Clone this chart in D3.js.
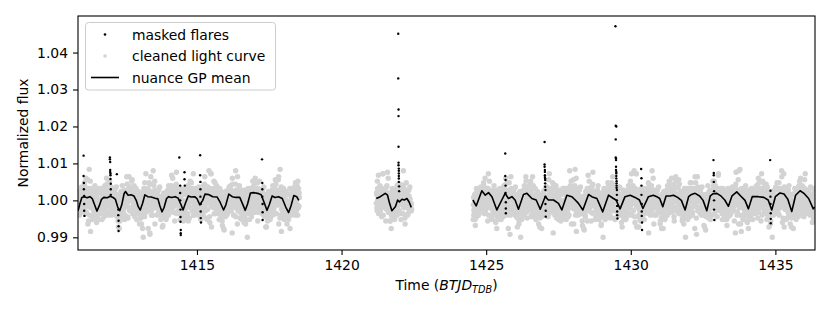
<!DOCTYPE html>
<html>
<head>
<meta charset="utf-8">
<script src="https://cdn.jsdelivr.net/npm/d3@7"></script>
<style>
body { margin: 0; background: #fff; }
svg { display: block; font-family: "DejaVu Sans", sans-serif; }
</style>
</head>
<body>
<svg width="830" height="312"></svg>
<script>
// ---- data ----
const xTicks = [1415, 1420, 1425, 1430, 1435];
const yTicks = [0.99, 1.00, 1.01, 1.02, 1.03, 1.04];
const legendLabels = ["masked flares", "cleaned light curve", "nuance GP mean"];

// cleaned light curve: one character per binned point, fixed time step,
// two interleaved passes (second one shifted by half a step)
const fluxLevels = "0123456789ABCDEFGHIJKLMNOPQRSTUVWXYZabcdefghijklmnopqrstuvwxyz";
const fluxBase = 0.988, fluxStep = 0.0004;
const grayStep = 0.015;
const grayStart = [1410.90, 1421.20, 1424.55];
const grayStartB = [1410.9075, 1421.2075, 1424.5575];
const graySeg1 = [
  "SYKWPbOTVN","WbPZgSLcUX","WiEbSpKX9c","QVHXSaMUeP","NSFVKPbHRM",
  "UNZRLWcQTJ","TeNYVjQaKW","ZRhMXdUOcS","NVTObPWKYS","JQCUNXGOaL",
  "PeUMaSXHVQ","QWfJbTYkNV","dPXUiLZSaR","JTQcWLRZNU","PEMTIYKRBO",
  "VcOgTWMbYQ","TBYgQ7VkNZ","XKaUeRhPWZ","SYKWPbOTVN","HWNLSDQZJM",
  "QVHXSaMUeP","SYNcVlQXTb","aQGWdUnTYM","UNZRLWcQTJ","OUGRZKMcIP",
  "UZLeRXIbVg","YTcPWmKXSa","NVTObPWKYS","QVHXSaMUeP","RfVNZbTHdW",
  "ZoSFaWmCUR","XUcLSgZPbW","UNZRLWcQTJ","LRDTNWAQKS","SYKWPbOTVN",
  "TeNYVjQaKW","QWfJbTYkNV","PeUMaSXHVQ","NSFVKPbHRM","UNZRLWcQTJ",
  "ZRhMXdUOcS","VcOgTWMbYQ","NVTObPWKYS","JQCUNXGOaL","QVHXSaMUeP",
  "dPXUiLZSaR","WiEbSpKX9c","JTQcWLRZNU","PEMTIYKRBO","SYKWPbOTVN",
  "XKaUeRhPWZ"
].join("");
const graySeg1B = [
  "VPaLTXNdRQ","bTXOeWRjMZ","QaVGcYUhPX","RWIZOUbKSY","RKOYHTMcLQ",
  "NcQTHXVMaP","YMdSWfLaTR","gUNbXKZcQW","VPaLTXNdRQ","MGUPBXNSJa",
  "RWIZOUbKSY","TkRXIaVdOY","ZPhUbLWSeN","NcQTHXVMaP","TOIWLEZQN5",
  "VXJcTmQZbS","cNWR8fYUKa","XSoPZUEbWT","VPaLTXNdRQ","KVPCSOYJRM",
  "RWIZOUbKSY","bTXOeWRjMZ","YMdSWfLaTR","NcQTHXVMaP","RKOYHTMcLQ",
  "QaVGcYUhPX","gUNbXKZcQW","VPaLTXNdRQ","RWIZOUbKSY","TkRXIaVdOY",
  "VXJcTmQZbS","ZPhUbLWSeN","NcQTHXVMaP","MGUPBXNSJa","VPaLTXNdRQ",
  "cNWR8fYUKa","XSoPZUEbWT","RWIZOUbKSY","TOIWLEZQN5","NcQTHXVMaP",
  "bTXOeWRjMZ","QaVGcYUhPX","VPaLTXNdRQ","KVPCSOYJRM","RWIZOUbKSY",
  "YMdSWfLaTR","TkRXIaVdOY","NcQTHXVMaP","RKOYHTMcLQ","VPaLTXNdRQ",
  "gUNbXKZcQW"
].join("");
const graySeg2 = [
  "SYNcVlQXTb","YTcPWmKXSa","aQGWdUnTYM","OUGRZKMcIP","QVHXSaMUeP",
  "RfVNZbTHdW","UZLeRXIbVg","SYKWPbOTVN","RN"
].join("");
const graySeg2B = [
  "ZPhUbLWSeN","VXJcTmQZbS","bTXOeWRjMZ","MGUPBXNSJa","RWIZOUbKSY",
  "YMdSWfLaTR","XSoPZUEbWT","VPaLTXNdRQ","SO"
].join("");
const graySeg3 = [
  "HWNLSDQZJM","SYKWPbOTVN","WbPZgSLcUX","YTcPWmKXSa","QVHXSaMUeP",
  "NSFVKPbHRM","UNZRLWcQTJ","TeNYVjQaKW","TBYgQ7VkNZ","NVTObPWKYS",
  "JQCUNXGOaL","QVHXSaMUeP","ZRhMXdUOcS","QWfJbTYkNV","JTQcWLRZNU",
  "PEMTIYKRBO","SYKWPbOTVN","dPXUiLZSaR","VcOgTWMbYQ","PeUMaSXHVQ",
  "OUGRZKMcIP","UNZRLWcQTJ","XKaUeRhPWZ","WiEbSpKX9c","SYKWPbOTVN",
  "LRDTNWAQKS","SYNcVlQXTb","aQGWdUnTYM","QVHXSaMUeP","HWNLSDQZJM",
  "UNZRLWcQTJ","UZLeRXIbVg","RfVNZbTHdW","NVTObPWKYS","NSFVKPbHRM",
  "QVHXSaMUeP","YTcPWmKXSa","ZoSFaWmCUR","JQCUNXGOaL","JTQcWLRZNU",
  "WbPZgSLcUX","TeNYVjQaKW","SYKWPbOTVN","PEMTIYKRBO","QVHXSaMUeP",
  "ZRhMXdUOcS","QWfJbTYkNV","dPXUiLZSaR","OUGRZKMcIP","UNZRLWcQTJ",
  "VcOgTWMbYQ","TBYgQ7VkNZ","NVTObPWKYS","LRDTNWAQKS","PeUMaSXHVQ",
  "XKaUeRhPWZ","SYNcVlQXTb","UNZRLWcQTJ","HWNLSDQZJM","SYKWPbOTVN",
  "aQGWdUnTYM","WiEbSpKX9c","QVHXSaMUeP","NSFVKPbHRM","JTQcWLRZNU",
  "UZLeRXIbVg","YTcPWmKXSa","RfVNZbTHdW","JQCUNXGOaL","SYKWPbOTVN",
  "XUcLSgZPbW","ZoSFaWmCUR","QVHXSaMUeP","PEMTIYKRBO","UNZRLWcQTJ",
  "TeNYVjQaKW","dPXUiLZSaR","NVTObPWKYS","NSFVKPbH"
].join("");
const graySeg3B = [
  "RKOYHTMcLQ","VPaLTXNdRQ","bTXOeWRjMZ","QaVGcYUhPX","RWIZOUbKSY",
  "MGUPBXNSJa","NcQTHXVMaP","YMdSWfLaTR","gUNbXKZcQW","VPaLTXNdRQ",
  "TOIWLEZQN5","RWIZOUbKSY","TkRXIaVdOY","ZPhUbLWSeN","NcQTHXVMaP",
  "KVPCSOYJRM","VPaLTXNdRQ","VXJcTmQZbS","cNWR8fYUKa","RWIZOUbKSY",
  "RKOYHTMcLQ","NcQTHXVMaP","XSoPZUEbWT","bTXOeWRjMZ","VPaLTXNdRQ",
  "MGUPBXNSJa","QaVGcYUhPX","YMdSWfLaTR","RWIZOUbKSY","TOIWLEZQN5",
  "NcQTHXVMaP","gUNbXKZcQW","TkRXIaVdOY","VPaLTXNdRQ","KVPCSOYJRM",
  "RWIZOUbKSY","ZPhUbLWSeN","VXJcTmQZbS","RKOYHTMcLQ","NcQTHXVMaP",
  "cNWR8fYUKa","XSoPZUEbWT","VPaLTXNdRQ","MGUPBXNSJa","RWIZOUbKSY",
  "bTXOeWRjMZ","QaVGcYUhPX","YMdSWfLaTR","TOIWLEZQN5","NcQTHXVMaP",
  "gUNbXKZcQW","TkRXIaVdOY","VPaLTXNdRQ","KVPCSOYJRM","RWIZOUbKSY",
  "ZPhUbLWSeN","VXJcTmQZbS","NcQTHXVMaP","RKOYHTMcLQ","VPaLTXNdRQ",
  "cNWR8fYUKa","XSoPZUEbWT","RWIZOUbKSY","MGUPBXNSJa","NcQTHXVMaP",
  "bTXOeWRjMZ","QaVGcYUhPX","YMdSWfLaTR","TOIWLEZQN5","VPaLTXNdRQ",
  "gUNbXKZcQW","TkRXIaVdOY","RWIZOUbKSY","KVPCSOYJRM","NcQTHXVMaP",
  "ZPhUbLWSeN","VXJcTmQZbS","VPaLTXNdRQ","RKOYHTMc"
].join("");

// GP mean, three segments
const gpTime1 = [1410.89,1410.95,1411.02,1411.10,1411.20,1411.30,1411.38,1411.46,1411.54,1411.62,1411.70,1411.78,1411.90,1412.00,1412.10,1412.18,1412.26,1412.33,1412.40,1412.48,1412.53,1412.62,1412.72,1412.82,1412.90,1412.97,1413.04,1413.12,1413.20,1413.30,1413.42,1413.55,1413.65,1413.72,1413.79,1413.86,1413.95,1414.02,1414.12,1414.25,1414.35,1414.45,1414.52,1414.60,1414.70,1414.80,1414.92,1415.00,1415.10,1415.20,1415.28,1415.40,1415.55,1415.70,1415.80,1415.92,1416.00,1416.10,1416.22,1416.35,1416.48,1416.58,1416.67,1416.75,1416.85,1416.95,1417.10,1417.22,1417.32,1417.42,1417.50,1417.60,1417.70,1417.82,1417.95,1418.07,1418.17,1418.25,1418.35,1418.45,1418.52];
const gpFlux1 = [0.9972,0.9990,1.0008,1.0010,1.0007,1.0010,1.0005,0.9988,0.9971,0.9985,1.0003,1.0008,1.0007,1.0011,1.0008,1.0003,0.9982,0.9972,0.9988,1.0018,1.0024,1.0014,1.0015,1.0012,1.0000,0.9983,0.9974,0.9992,1.0015,1.0010,1.0009,1.0006,1.0004,0.9985,0.9969,0.9980,1.0005,1.0010,1.0008,1.0010,1.0006,0.9988,0.9974,0.9992,1.0012,1.0009,1.0010,1.0005,0.9988,1.0000,1.0017,1.0016,1.0010,1.0009,0.9995,0.9974,0.9988,1.0017,1.0010,1.0008,1.0008,0.9990,0.9973,0.9990,1.0020,1.0021,1.0019,1.0015,0.9995,0.9973,0.9988,1.0012,1.0008,1.0010,1.0005,0.9982,0.9967,0.9985,1.0013,1.0010,1.0000];
const gpTime2 = [1421.20,1421.34,1421.51,1421.59,1421.66,1421.74,1421.86,1421.94,1422.00,1422.09,1422.17,1422.26,1422.34,1422.41];
const gpFlux2 = [1.0005,1.0010,1.0019,1.0014,0.9992,0.9972,0.9983,1.0001,0.9996,1.0003,1.0001,1.0005,0.9995,0.9981];
const gpTime3 = [1424.54,1424.655,1424.85,1424.97,1425.08,1425.20,1425.37,1425.54,1425.657,1425.77,1425.89,1426.00,1426.117,1426.29,1426.41,1426.58,1426.73,1426.87,1427.04,1427.15,1427.33,1427.50,1427.617,1427.79,1427.96,1428.08,1428.19,1428.343,1428.54,1428.65,1428.83,1429.03,1429.23,1429.40,1429.49,1429.63,1429.80,1429.98,1430.15,1430.30,1430.42,1430.61,1430.78,1430.90,1431.00,1431.107,1431.22,1431.35,1431.475,1431.62,1431.75,1431.879,1432.00,1432.10,1432.225,1432.38,1432.50,1432.628,1432.75,1432.85,1432.975,1433.10,1433.25,1433.376,1433.50,1433.665,1433.80,1433.95,1434.068,1434.20,1434.41,1434.60,1434.75,1434.875,1435.00,1435.16,1435.30,1435.43,1435.566,1435.70,1435.855,1436.00,1436.15,1436.31,1436.36];
const gpFlux3 = [1.0001,0.9985,1.0026,1.0014,1.0021,1.0010,0.9974,1.0001,1.0019,1.0005,1.0010,1.0001,0.9976,1.0016,1.0019,1.0005,1.0001,0.9976,1.0010,1.0001,1.0001,0.9992,0.9974,1.0014,1.0010,1.0001,0.9992,0.9974,1.0016,1.0010,1.0005,0.9969,1.0014,1.0005,1.0001,0.9977,1.0010,1.0014,1.0008,1.0001,0.9978,1.0010,1.0014,1.0010,1.0005,0.9983,1.0012,1.0012,1.0014,1.0008,1.0000,0.9974,1.0010,1.0016,1.0019,1.0012,1.0000,0.9972,1.0012,1.0018,1.0019,1.0013,1.0001,0.9984,1.0012,1.0023,1.0012,1.0000,0.9977,1.0010,1.0010,1.0008,1.0001,0.9974,1.0010,1.0020,1.0017,1.0003,0.9970,1.0014,1.0026,1.0018,1.0005,0.9977,0.9982];

// masked flare points
const flareTime = [
  1411.08,1411.08,1411.09,1411.09,1411.10,1411.10,1411.10,1411.11,
  1411.99,1411.99,1412.00,1412.00,1412.00,1412.01,1412.01,1412.01,1412.02,1412.02,1412.02,
  1412.23,1412.28,1412.28,1412.29,1412.29,1412.29,
  1414.39,1414.42,1414.42,1414.42,1414.43,1414.43,1414.43,1414.44,1414.44,1414.44,1414.57,1414.57,1414.58,
  1415.11,1415.11,1415.12,1415.12,1415.12,1415.13,1415.13,1415.13,1415.14,
  1417.25,1417.26,1417.26,1417.26,1417.27,1417.27,1417.27,
  1421.96,1421.96,1421.97,1421.97,1421.97,1421.97,1421.97,1421.98,1421.98,1421.98,1421.98,1421.98,1421.98,1421.99,1421.99,
  1425.66,1425.66,1425.67,1425.67,1425.67,1425.68,1425.68,1425.68,
  1427.02,1427.02,1427.02,1427.03,1427.03,1427.03,1427.03,1427.04,1427.04,1427.04,1427.04,1427.05,1427.05,1427.05,1427.06,1427.06,
  1429.47,1429.48,1429.50,1429.48,1429.48,1429.49,1429.49,1429.49,1429.49,1429.50,1429.50,1429.50,1429.50,1429.51,1429.51,1429.51,1429.51,1429.52,1429.52,1429.52,1429.53,1429.53,1429.53,1429.54,
  1430.36,1430.37,1430.37,1430.37,1430.38,1430.38,1430.38,1430.39,1430.39,
  1432.86,1432.87,1432.87,1432.87,1432.88,1432.88,1432.88,1432.89,
  1434.82,1434.83,1434.83,1434.83,1434.84,1434.84,1434.84
];
const flareFlux = [
  1.0121,1.0066,1.0047,1.0030,1.0012,0.9990,0.9972,0.9958,
  1.0116,1.0111,1.0104,1.0082,1.0077,1.0073,1.0068,1.0058,1.0045,1.0030,1.0015,
  1.0071,0.9975,0.9960,0.9945,0.9930,0.9917,
  1.0116,1.0040,1.0020,1.0000,0.9975,0.9955,0.9942,0.9920,0.9911,0.9906,1.0076,1.0057,1.0040,
  1.0122,1.0068,1.0050,1.0030,1.0010,0.9990,0.9970,0.9952,0.9940,
  1.0111,1.0047,1.0030,1.0010,0.9990,0.9968,0.9947,
  1.0451,1.0330,1.0246,1.0228,1.0145,1.0102,1.0095,1.0086,1.0080,1.0073,1.0066,1.0059,1.0050,1.0038,1.0025,
  1.0127,1.0066,1.0055,1.0040,1.0020,0.9995,0.9978,0.9965,
  1.0158,1.0097,1.0091,1.0082,1.0077,1.0068,1.0063,1.0059,1.0055,1.0046,1.0037,1.0028,1.0010,0.9990,0.9972,0.9956,
  1.0471,1.0202,1.0200,1.0165,1.0116,1.0113,1.0109,1.0091,1.0082,1.0077,1.0073,1.0066,1.0059,1.0052,1.0046,1.0040,1.0034,1.0028,1.0015,1.0000,0.9985,0.9970,0.9960,0.9951,
  1.0085,1.0060,1.0040,1.0015,0.9990,0.9970,0.9958,0.9940,0.9920,
  1.0109,1.0074,1.0068,1.0050,1.0025,1.0000,0.9975,0.9947,
  1.0109,1.0026,1.0010,0.9990,0.9965,0.9950,0.9938
];

// ---- layout ----
const svg = d3.select("svg");
const plot = { left: 78, right: 815, top: 16, bottom: 250 };
const fontSize = "13.9px";

const x = d3.scaleLinear().domain([1410.887, 1436.37]).range([plot.left, plot.right]);
const y = d3.scaleLinear().domain([0.98657, 1.04989]).range([plot.bottom, plot.top]);

svg.append("clipPath").attr("id", "clip")
  .append("rect")
  .attr("x", plot.left).attr("y", plot.top)
  .attr("width", plot.right - plot.left).attr("height", plot.bottom - plot.top);

const grayData = [];
const grayPasses = [
  [grayStart, [graySeg1, graySeg2, graySeg3]],
  [grayStartB, [graySeg1B, graySeg2B, graySeg3B]]
];
grayPasses.forEach(([starts, segs]) => {
  segs.forEach((s, k) => {
    for (let i = 0; i < s.length; i++) {
      grayData.push({ t: starts[k] + i * grayStep, f: fluxBase + fluxLevels.indexOf(s[i]) * fluxStep });
    }
  });
});
const flareData = flareTime.map((t, i) => ({ t: t, f: flareFlux[i] }));
const gpSegments = [[gpTime1, gpFlux1], [gpTime2, gpFlux2], [gpTime3, gpFlux3]]
  .map(([ts, fs]) => ts.map((t, i) => ({ t: t, f: fs[i] })));

const body = svg.append("g").attr("clip-path", "url(#clip)");

// cleaned light curve
body.append("g").selectAll("circle")
  .data(grayData)
  .enter().append("circle")
  .attr("cx", d => x(d.t))
  .attr("cy", d => y(d.f))
  .attr("r", 2.7)
  .attr("fill", "#d3d3d3");

// masked flares
body.append("g").selectAll("circle")
  .data(flareData)
  .enter().append("circle")
  .attr("cx", d => x(d.t))
  .attr("cy", d => y(d.f))
  .attr("r", 1.2)
  .attr("fill", "#000");

// GP mean
const line = d3.line().x(d => x(d.t)).y(d => y(d.f));
body.append("g").selectAll("path")
  .data(gpSegments)
  .enter().append("path")
  .attr("d", line)
  .attr("fill", "none")
  .attr("stroke", "#000")
  .attr("stroke-width", 1.6)
  .attr("stroke-linejoin", "round");

// axes
const xAxis = svg.append("g")
  .attr("transform", `translate(0, ${plot.bottom})`)
  .call(d3.axisBottom(x).tickValues(xTicks).tickSize(5).tickPadding(5).tickFormat(d3.format("d")));
const yAxis = svg.append("g")
  .attr("transform", `translate(${plot.left}, 0)`)
  .call(d3.axisLeft(y).tickValues(yTicks).tickSize(5).tickPadding(5).tickFormat(d3.format(".2f")));
[xAxis, yAxis].forEach(a => {
  a.select(".domain").remove();
  a.attr("font-family", "DejaVu Sans, sans-serif").attr("font-size", fontSize);
  a.selectAll("text").attr("fill", "#000");
  a.selectAll("line").attr("stroke", "#000").attr("stroke-width", 1.1);
});

// frame
svg.append("rect")
  .attr("x", plot.left).attr("y", plot.top)
  .attr("width", plot.right - plot.left).attr("height", plot.bottom - plot.top)
  .attr("fill", "none").attr("stroke", "#000").attr("stroke-width", 1.1);

// axis labels
const xLabel = svg.append("text")
  .attr("x", (plot.left + plot.right) / 2).attr("y", 290)
  .attr("text-anchor", "middle").attr("font-size", fontSize);
xLabel.append("tspan").text("Time (");
xLabel.append("tspan").attr("font-style", "italic").text("BTJD");
xLabel.append("tspan").attr("font-style", "italic").attr("font-size", "9.7px").attr("dy", 3).text("TDB");
xLabel.append("tspan").attr("dy", -3).text(")");

svg.append("text")
  .attr("transform", `translate(28, ${(plot.top + plot.bottom) / 2}) rotate(-90)`)
  .attr("text-anchor", "middle").attr("font-size", fontSize)
  .text("Normalized flux");

// legend
const legend = svg.append("g");
legend.append("rect")
  .attr("x", 85.5).attr("y", 22.5).attr("width", 190).attr("height", 67.5).attr("rx", 3)
  .attr("fill", "#fff").attr("fill-opacity", 0.8)
  .attr("stroke", "#cccccc").attr("stroke-width", 1);
const rowY = [34.5, 56, 77.5];
legend.append("circle").attr("cx", 105).attr("cy", rowY[0]).attr("r", 1.3).attr("fill", "#000");
legend.append("circle").attr("cx", 105).attr("cy", rowY[1]).attr("r", 1.8).attr("fill", "#d3d3d3");
legend.append("line").attr("x1", 91).attr("x2", 119).attr("y1", rowY[2]).attr("y2", rowY[2])
  .attr("stroke", "#000").attr("stroke-width", 1.6);
legend.selectAll("text.lab")
  .data(legendLabels)
  .enter().append("text")
  .attr("class", "lab")
  .attr("x", 132).attr("y", (d, i) => rowY[i]).attr("dy", "0.36em")
  .attr("font-size", fontSize)
  .text(d => d);
</script>
</body>
</html>
